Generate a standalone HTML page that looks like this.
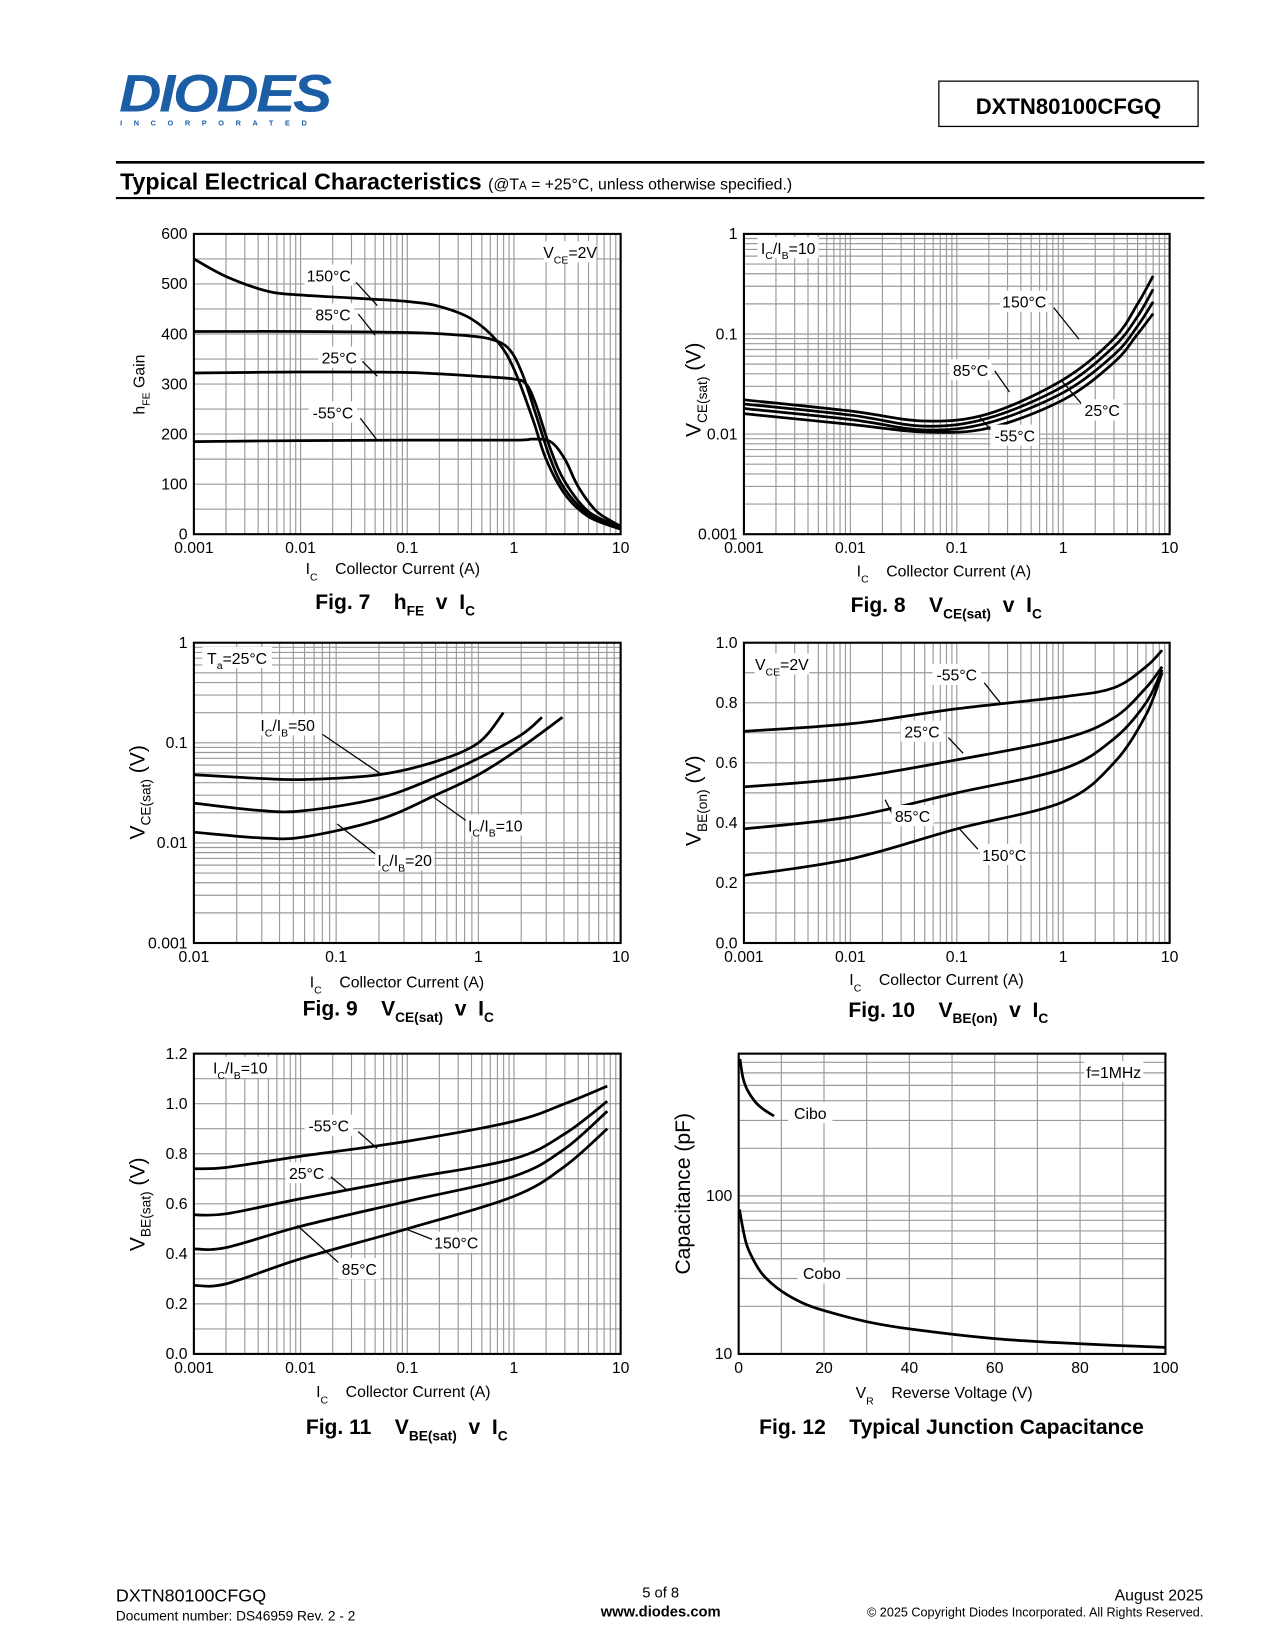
<!DOCTYPE html>
<html><head><meta charset="utf-8"><title>DXTN80100CFGQ Typical Electrical Characteristics</title>
<style>
html,body{margin:0;padding:0;background:#fff;}
svg{display:block;font-family:"Liberation Sans",Arial,sans-serif;}
svg text{white-space:pre;}
</style></head>
<body>
<svg id="page" width="1275" height="1650" viewBox="0 0 1210 1566" preserveAspectRatio="none" xmlns="http://www.w3.org/2000/svg">
<rect x="0" y="0" width="1210" height="1566" fill="#fff"/>
<!-- header -->
<g>
<text x="113" y="106" font-size="50" font-weight="bold" font-style="italic" fill="#1b5ea6" letter-spacing="-2" textLength="200" lengthAdjust="spacingAndGlyphs">DIODES</text>
<text x="114" y="119" font-size="7" font-weight="bold" fill="#1b5ea6" letter-spacing="11">INCORPORATED</text>
</g>
<rect x="891" y="77" width="246" height="43" fill="none" stroke="#000" stroke-width="1.2"/>
<text x="1014" y="108" font-size="21" font-weight="bold" text-anchor="middle">DXTN80100CFGQ</text>
<line x1="110" y1="154" x2="1143" y2="154" stroke="#000" stroke-width="2.5"/>
<line x1="110" y1="188" x2="1143" y2="188" stroke="#000" stroke-width="2"/>
<text x="114" y="180" font-size="22" font-weight="bold">Typical Electrical Characteristics <tspan font-size="15" font-weight="normal">(@T<tspan font-size="11">A</tspan> = +25°C, unless otherwise specified.)</tspan></text>

<g id="charts"></g>

<!-- static labels -->
<g font-size="15">
<!-- Fig7 -->
<text x="137" y="365" font-size="15" text-anchor="middle" transform="rotate(-90 137 365)">h<tspan font-size="10" dy="5">FE</tspan><tspan dy="-5"> Gain</tspan></text>
<text x="290" y="545">I<tspan font-size="10" dy="6">C</tspan><tspan dy="-6">    Collector Current (A)</tspan></text>
<text x="375" y="578" font-size="20" font-weight="bold" text-anchor="middle">Fig. 7    h<tspan font-size="13" dy="6">FE</tspan><tspan dy="-6">  v  I</tspan><tspan font-size="13" dy="6">C</tspan></text>
<!-- Fig8 -->
<text x="665" y="370" font-size="20" text-anchor="middle" transform="rotate(-90 665 370)">V<tspan font-size="13" dy="6">CE(sat)</tspan><tspan dy="-6"> (V)</tspan></text>
<text x="813" y="547">I<tspan font-size="10" dy="6">C</tspan><tspan dy="-6">    Collector Current (A)</tspan></text>
<text x="898" y="581" font-size="20" font-weight="bold" text-anchor="middle">Fig. 8    V<tspan font-size="13" dy="6">CE(sat)</tspan><tspan dy="-6">  v  I</tspan><tspan font-size="13" dy="6">C</tspan></text>
<!-- Fig9 -->
<text x="137" y="752" font-size="20" text-anchor="middle" transform="rotate(-90 137 752)">V<tspan font-size="13" dy="6">CE(sat)</tspan><tspan dy="-6"> (V)</tspan></text>
<text x="294" y="937">I<tspan font-size="10" dy="6">C</tspan><tspan dy="-6">    Collector Current (A)</tspan></text>
<text x="378" y="964" font-size="20" font-weight="bold" text-anchor="middle">Fig. 9    V<tspan font-size="13" dy="6">CE(sat)</tspan><tspan dy="-6">  v  I</tspan><tspan font-size="13" dy="6">C</tspan></text>
<!-- Fig10 -->
<text x="665" y="760" font-size="20" text-anchor="middle" transform="rotate(-90 665 760)">V<tspan font-size="13" dy="6">BE(on)</tspan><tspan dy="-6"> (V)</tspan></text>
<text x="806" y="935">I<tspan font-size="10" dy="6">C</tspan><tspan dy="-6">    Collector Current (A)</tspan></text>
<text x="900" y="965" font-size="20" font-weight="bold" text-anchor="middle">Fig. 10    V<tspan font-size="13" dy="6">BE(on)</tspan><tspan dy="-6">  v  I</tspan><tspan font-size="13" dy="6">C</tspan></text>
<!-- Fig11 -->
<text x="137" y="1143" font-size="20" text-anchor="middle" transform="rotate(-90 137 1143)">V<tspan font-size="13" dy="6">BE(sat)</tspan><tspan dy="-6"> (V)</tspan></text>
<text x="300" y="1326">I<tspan font-size="10" dy="6">C</tspan><tspan dy="-6">    Collector Current (A)</tspan></text>
<text x="386" y="1361" font-size="20" font-weight="bold" text-anchor="middle">Fig. 11    V<tspan font-size="13" dy="6">BE(sat)</tspan><tspan dy="-6">  v  I</tspan><tspan font-size="13" dy="6">C</tspan></text>
<!-- Fig12 -->
<text x="655" y="1133" font-size="20" text-anchor="middle" transform="rotate(-90 655 1133)">Capacitance (pF)</text>
<text x="812" y="1327">V<tspan font-size="10" dy="6">R</tspan><tspan dy="-6">    Reverse Voltage (V)</tspan></text>
<text x="903" y="1361" font-size="20" font-weight="bold" text-anchor="middle">Fig. 12    Typical Junction Capacitance</text>
</g>

<!-- footer -->
<g>
<text x="110" y="1520" font-size="17">DXTN80100CFGQ</text>
<text x="110" y="1538" font-size="13">Document number: DS46959 Rev. 2 - 2</text>
<text x="627" y="1516" font-size="14" text-anchor="middle">5 of 8</text>
<text x="627" y="1534" font-size="14" font-weight="bold" text-anchor="middle">www.diodes.com</text>
<text x="1142" y="1519" font-size="15" text-anchor="end">August 2025</text>
<text x="1142" y="1534" font-size="12" text-anchor="end">© 2025 Copyright Diodes Incorporated. All Rights Reserved.</text>
</g>
</svg>
<script>
// ---------- data ----------
// Fig 7: hFE vs Ic
const f7_x150 = [0.001,0.002,0.005,0.01,0.03,0.1,0.2,0.4,0.7,1,1.5,2,3,5,10];
const f7_y150 = [550,515,485,478,472,465,455,430,385,330,230,150,80,35,10];
const f7_x85 = [0.001,0.01,0.1,0.3,0.6,0.9,1.2,1.6,2.2,3,5,10];
const f7_y85 = [405,405,403,398,390,370,320,240,150,90,40,12];
const f7_x25 = [0.001,0.01,0.1,0.5,1,1.3,1.6,2.2,3,5,10];
const f7_y25 = [322,324,323,315,310,300,260,170,105,45,14];
const f7_xm55 = [0.001,0.01,0.1,1,1.5,2.2,3,4,6,10];
const f7_ym55 = [185,187,188,188,190,185,150,95,45,16];
const f7_yticks = [0,100,200,300,400,500,600];
// Fig 8: VCE(sat) vs Ic (Ic/Ib=10)
const f8_x = [0.001,0.01,0.05,0.2,1,3,5,7];
const f8_y150 = [0.022,0.017,0.0135,0.016,0.035,0.09,0.2,0.38];
const f8_y85 = [0.020,0.0155,0.012,0.0145,0.03,0.075,0.15,0.28];
const f8_y25 = [0.018,0.014,0.011,0.013,0.026,0.062,0.12,0.21];
const f8_ym55 = [0.016,0.0125,0.0105,0.0115,0.022,0.052,0.1,0.16];
const logTicks3 = ["0.001","0.01","0.1","1"];
const logTicksX4 = ["0.001","0.01","0.1","1","10"];
// Fig 9: VCE(sat) vs Ic, Ta=25C
const f9_x50 = [0.01,0.03,0.06,0.2,0.5,1,1.5];
const f9_y50 = [0.048,0.044,0.043,0.048,0.065,0.1,0.2];
const f9_x20 = [0.01,0.03,0.06,0.2,0.5,1,2,2.8];
const f9_y20 = [0.025,0.021,0.021,0.028,0.045,0.07,0.12,0.18];
const f9_x10 = [0.01,0.03,0.06,0.2,0.5,1,2,3.9];
const f9_y10 = [0.0128,0.0112,0.0115,0.017,0.03,0.048,0.09,0.18];
const f9_xticks = ["0.01","0.1","1","10"];
// Fig 10: VBE(on) vs Ic
const f10_x = [0.001,0.01,0.1,1,3,6,8.5];
const f10_ym55 = [0.705,0.73,0.78,0.82,0.85,0.92,0.975];
const f10_y25 = [0.52,0.55,0.61,0.68,0.75,0.85,0.92];
const f10_y85 = [0.38,0.42,0.5,0.58,0.68,0.8,0.91];
const f10_y150 = [0.225,0.28,0.38,0.47,0.6,0.76,0.9];
const f10_yticks = [0,0.2,0.4,0.6,0.8,1.0];
// Fig 11: VBE(sat) vs Ic
const f11_x = [0.001,0.002,0.01,0.1,1,3,7.5];
const f11_ym55 = [0.74,0.745,0.79,0.85,0.93,1.0,1.07];
const f11_y25 = [0.556,0.56,0.62,0.7,0.78,0.88,1.01];
const f11_y85 = [0.42,0.425,0.51,0.61,0.71,0.82,0.97];
const f11_y150 = [0.274,0.28,0.38,0.5,0.63,0.75,0.9];
const f11_yticks = [0,0.2,0.4,0.6,0.8,1.0,1.2];
// Fig 12: capacitance vs VR
const f12_xcibo = [0.3,1,2,4,6,8.3];
const f12_ycibo = [735,560,470,390,350,320];
const f12_xcobo = [0.2,1,2,4,6,10,15,20,30,40,60,80,100];
const f12_ycobo = [82,62,48,37,31,25,21,18.8,16,14.4,12.5,11.6,11];
const f12_xticks = [0,20,40,60,80,100];

// ---------- helpers ----------
const NS = "http://www.w3.org/2000/svg";
const root = document.getElementById('charts');
function mk(tag, attrs, parent){const e=document.createElementNS(NS,tag);for(const k in attrs)e.setAttribute(k,attrs[k]);(parent||root).appendChild(e);return e;}
function scale(type,min,max,p0,p1){
  if(type==='log'){const a=Math.log10(min),b=Math.log10(max);return v=>p0+(Math.log10(v)-a)/(b-a)*(p1-p0);}
  return v=>p0+(v-min)/(max-min)*(p1-p0);
}
function gridVals(type,min,max,step){
  const out=[];
  if(type==='log'){for(let d=Math.floor(Math.log10(min));d<Math.ceil(Math.log10(max));d++){for(let k=1;k<10;k++){const v=k*Math.pow(10,d);if(v>=min*0.999&&v<=max*1.001)out.push(v);}}}
  else{for(let v=min;v<=max+1e-9;v+=step)out.push(v);}
  return out;
}
function chart(name,L,R,T,B,xt,xmin,xmax,xstep,yt,ymin,ymax,ystep){
  const g=mk('g',{});
  
  
  const sx=scale(xt,xmin,xmax,L,R), sy=scale(yt,ymin,ymax,B,T);
  gridVals(xt,xmin,xmax,xstep).forEach(v=>{const x=sx(v);mk('line',{x1:x,x2:x,y1:T,y2:B,stroke:'#9a9a9a','stroke-width':1.1},g);});
  gridVals(yt,ymin,ymax,ystep).forEach(v=>{const y=sy(v);mk('line',{x1:L,x2:R,y1:y,y2:y,stroke:'#9a9a9a','stroke-width':1.1},g);});
  mk('rect',{x:L,y:T,width:R-L,height:B-T,fill:'none',stroke:'#000','stroke-width':2},g);
  return {g,sx,sy,L,R,T,B};
}
function xTicks(c,vals,labels){vals.forEach((v,i)=>{const t=mk('text',{x:c.sx(v),y:c.B+18,'font-size':15,'text-anchor':'middle'},c.g);t.textContent=labels[i];
  
  });}
function yTicks(c,vals,labels){vals.forEach((v,i)=>{const t=mk('text',{x:c.L-6,y:c.sy(v)+5,'font-size':15,'text-anchor':'end'},c.g);t.textContent=labels[i];
  
  });}
function series(c,xs,ys,name){
  const p=xs.map((x,i)=>[c.sx(x),c.sy(ys[i])]);
  let d='M'+p[0][0]+','+p[0][1];
  for(let i=0;i<p.length-1;i++){
    const p0=p[Math.max(0,i-1)],p1=p[i],p2=p[i+1],p3=p[Math.min(p.length-1,i+2)];
    const c1=[p1[0]+(p2[0]-p0[0])/6,p1[1]+(p2[1]-p0[1])/6];
    const c2=[p2[0]-(p3[0]-p1[0])/6,p2[1]-(p3[1]-p1[1])/6];
    d+=' C'+c1[0]+','+c1[1]+' '+c2[0]+','+c2[1]+' '+p2[0]+','+p2[1];
  }
  const e=mk('path',{d:d,fill:'none',stroke:'#000','stroke-width':2.6},c.g);
  
  
}
function note(c,txt,x,y,w,lx1,ly1,lx2,ly2,sub){
  if(lx1!==null)mk('line',{x1:lx1,y1:ly1,x2:lx2,y2:ly2,stroke:'#000','stroke-width':1.2},c.g);
  mk('rect',{x:x-w/2,y:y-12,width:w,height:20,fill:'#fff'},c.g);
  const t=mk('text',{x:x,y:y+4,'font-size':15,'text-anchor':'middle'},c.g);
  
  
  if(sub){sub.forEach(s=>{const ts=mk('tspan',s[1]?{'font-size':10,dy:5}:{'font-size':15,dy:s[2]||0},t);ts.textContent=s[0];});}
  else t.textContent=txt;
}

// ---------- Fig 7 ----------
let c=chart('fig7-hfe-chart',184,589,222,507,'log',0.001,10,0,'lin',0,600,50);
xTicks(c,[0.001,0.01,0.1,1,10],logTicksX4);
yTicks(c,f7_yticks,f7_yticks.map(String));
series(c,f7_x150,f7_y150,'hfe-150c-line');
series(c,f7_x85,f7_y85,'hfe-85c-line');
series(c,f7_x25,f7_y25,'hfe-25c-line');
series(c,f7_xm55,f7_ym55,'hfe-minus55c-line');
note(c,'150°C',312,263,46,338,268,358,290);
note(c,'85°C',316,300,40,340,298,356,318);
note(c,'25°C',322,341,40,344,343,358,357);
note(c,'-55°C',316,393,46,342,397,358,418);
note(c,'',541,241,50,null,0,0,0,[['V',0],['CE',1],['=2V',0,-5]]);

// ---------- Fig 8 ----------
c=chart('fig8-vcesat-chart',706,1110,222,507,'log',0.001,10,0,'log',0.001,1,0);
xTicks(c,[0.001,0.01,0.1,1,10],logTicksX4);
yTicks(c,[0.001,0.01,0.1,1],logTicks3);
series(c,f8_x,f8_y150,'vcesat-150c-line');
series(c,f8_x,f8_y85,'vcesat-85c-line');
series(c,f8_x,f8_y25,'vcesat-25c-line');
series(c,f8_x,f8_ym55,'vcesat-minus55c-line');
note(c,'',748,237,58,null,0,0,0,[['I',0],['C',1],['/I',0,-5],['B',1],['=10',0,-5]]);
note(c,'150°C',972,288,46,1000,292,1024,322);
note(c,'85°C',921,353,40,944,352,958,372);
note(c,'25°C',1046,391,40,1028,385,1008,362);
note(c,'-55°C',963,415,46,940,408,930,396);

// ---------- Fig 9 ----------
c=chart('fig9-vcesat-ratio-chart',184,589,610,895,'log',0.01,10,0,'log',0.001,1,0);
xTicks(c,[0.01,0.1,1,10],f9_xticks);
yTicks(c,[0.001,0.01,0.1,1],logTicks3);
series(c,f9_x50,f9_y50,'ratio-50-line');
series(c,f9_x20,f9_y20,'ratio-20-line');
series(c,f9_x10,f9_y10,'ratio-10-line');
note(c,'',225,626,66,null,0,0,0,[['T',0],['a',1],['=25°C',0,-5]]);
note(c,'',273,690,56,306,697,362,735,[['I',0],['C',1],['/I',0,-5],['B',1],['=50',0,-5]]);
note(c,'',470,785,56,444,780,412,757,[['I',0],['C',1],['/I',0,-5],['B',1],['=10',0,-5]]);
note(c,'',384,818,56,358,812,320,782,[['I',0],['C',1],['/I',0,-5],['B',1],['=20',0,-5]]);

// ---------- Fig 10 ----------
c=chart('fig10-vbeon-chart',706,1110,610,895,'log',0.001,10,0,'lin',0,1,0.1);
xTicks(c,[0.001,0.01,0.1,1,10],logTicksX4);
yTicks(c,f10_yticks,f10_yticks.map(v=>v.toFixed(1)));
series(c,f10_x,f10_ym55,'vbeon-minus55c-line');
series(c,f10_x,f10_y25,'vbeon-25c-line');
series(c,f10_x,f10_y85,'vbeon-85c-line');
series(c,f10_x,f10_y150,'vbeon-150c-line');
note(c,'',742,632,52,null,0,0,0,[['V',0],['CE',1],['=2V',0,-5]]);
note(c,'-55°C',908,642,46,934,648,950,668);
note(c,'25°C',875,696,40,900,700,914,715);
note(c,'85°C',866,776,40,846,771,840,759);
note(c,'150°C',953,813,46,928,806,910,786);

// ---------- Fig 11 ----------
c=chart('fig11-vbesat-chart',184,589,1000,1285,'log',0.001,10,0,'lin',0,1.2,0.1);
xTicks(c,[0.001,0.01,0.1,1,10],logTicksX4);
yTicks(c,f11_yticks,f11_yticks.map(v=>v.toFixed(1)));
series(c,f11_x,f11_ym55,'vbesat-minus55c-line');
series(c,f11_x,f11_y25,'vbesat-25c-line');
series(c,f11_x,f11_y85,'vbesat-85c-line');
series(c,f11_x,f11_y150,'vbesat-150c-line');
note(c,'',228,1015,58,null,0,0,0,[['I',0],['C',1],['/I',0,-5],['B',1],['=10',0,-5]]);
note(c,'-55°C',312,1070,46,340,1074,358,1090);
note(c,'25°C',291,1115,40,314,1117,330,1130);
note(c,'150°C',433,1181,46,412,1177,384,1166);
note(c,'85°C',341,1206,40,322,1199,282,1163);

// ---------- Fig 12 ----------
c=chart('fig12-capacitance-chart',701,1106,1000,1285,'lin',0,100,10,'log',10,794,0);
xTicks(c,f12_xticks,f12_xticks.map(String));
yTicks(c,[10,100],['10','100']);
series(c,f12_xcibo,f12_ycibo,'cibo-line');
series(c,f12_xcobo,f12_ycobo,'cobo-line');
note(c,'f=1MHz',1057,1019,56,null);
note(c,'Cibo',769,1058,42,null);
note(c,'Cobo',780,1210,46,null);
</script>
</body></html>
